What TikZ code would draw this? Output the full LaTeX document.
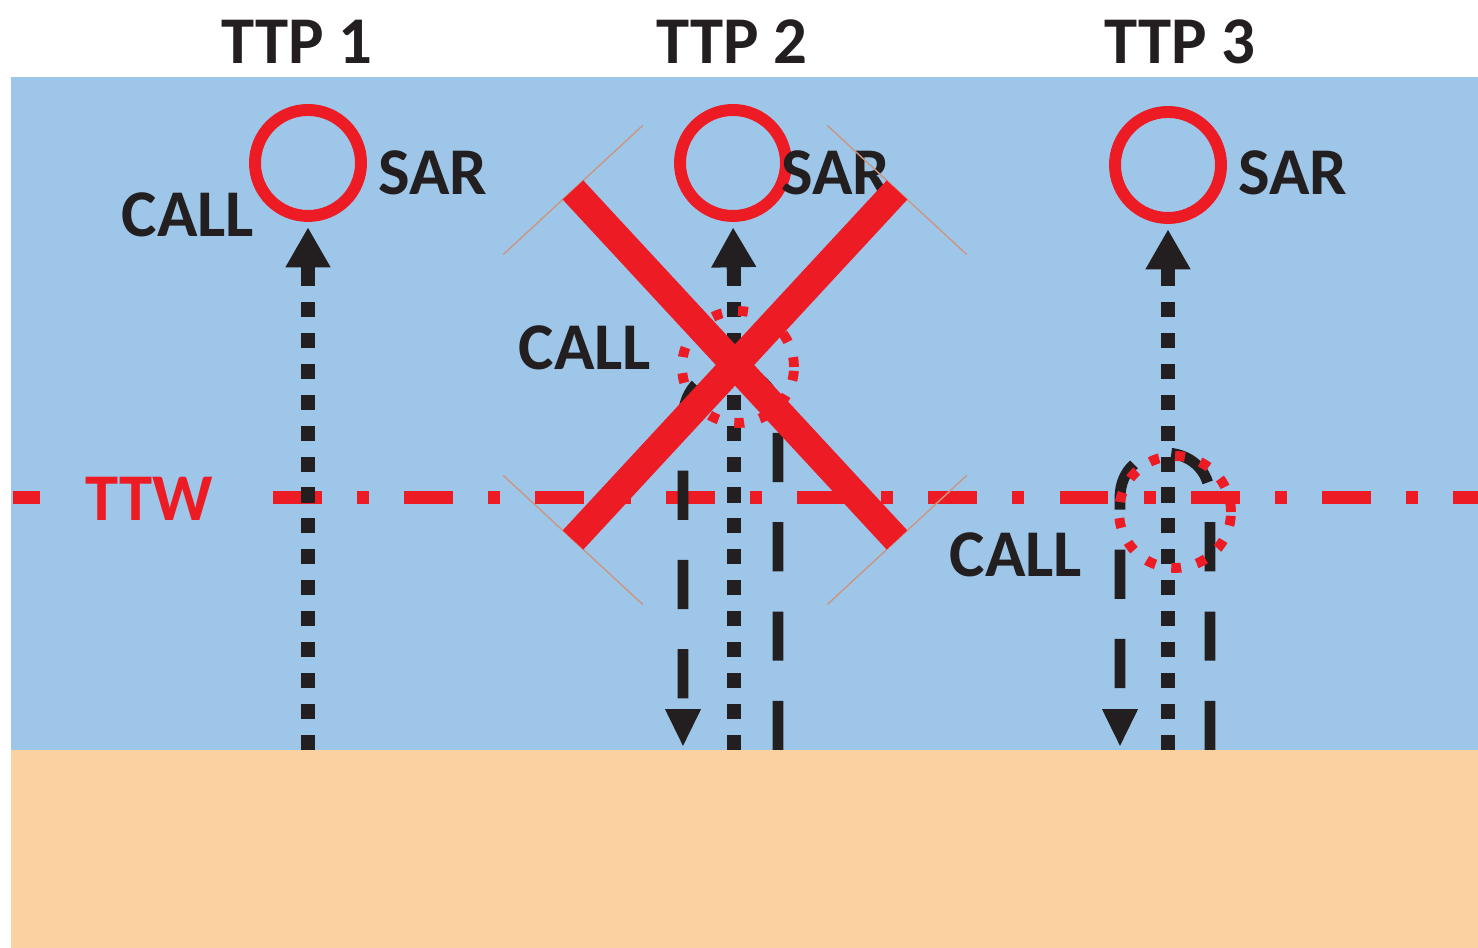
\documentclass[tikz,border=0pt]{standalone}
\usepackage{fontspec}
\setmainfont{Carlito}
\usetikzlibrary{arrows.meta,calc}

\definecolor{seablue}{RGB}{157,198,232}
\definecolor{sand}{RGB}{251,209,162}
\definecolor{alarmred}{RGB}{237,28,36}
\definecolor{ink}{RGB}{35,31,32}
\definecolor{capline}{RGB}{205,150,130}

\begin{document}
\begin{tikzpicture}[
    lbl/.style={font=\fontsize{19}{22}\selectfont\bfseries, text=ink, inner sep=0pt},
    sar/.style={circle, draw=alarmred, line width=3.4pt, minimum size=1.06cm, inner sep=0pt},
    uptrack/.style={ink, line width=4pt, dash pattern=on 4.3pt off 4.5pt},
    uptip/.style={ink, line width=4pt, shorten >=1.5pt, -{Triangle[length=11.4pt,width=12pt]}},
    hairpin/.style={ink, line width=3.1pt, dash pattern=on 14pt off 11.4pt, -{Triangle[length=10.8pt,width=9.4pt]}},
    callring/.style={circle, draw=alarmred, line width=2.8pt, dash pattern=on 2.8pt off 4.6pt, minimum size=1.12cm, inner sep=0pt},
    ttwline/.style={alarmred, line width=3.7pt, dash pattern=on 13.9pt off 10pt on 3.4pt off 10pt},
    cross/.style={alarmred, line width=8pt},
    crosscap/.style={capline, line width=0.4pt}
]

    % Page, sea and seabed
    \useasboundingbox (0,0) rectangle (14.78,9.48);
    \fill[white] (0,0) rectangle (14.78,9.48);
    \fill[seablue] (0.11,1.98) rectangle (14.78,8.71);
    \fill[sand] (0.11,0) rectangle (14.78,1.98);

    % Headings
    \node[lbl] (ttp1) at (2.97,9.06) {TTP 1};
    \node[lbl] (ttp2) at (7.32,9.06) {TTP 2};
    \node[lbl] (ttp3) at (11.80,9.06) {TTP 3};

    % TTW line
    \node[lbl, text=alarmred] (ttw) at (1.49,4.49) {TTW};
    \draw[ttwline] (0.13,4.50) -- (0.40,4.50);
    \draw[ttwline] (2.73,4.50) -- (14.78,4.50);

    % Track ends on the seabed
    \coordinate (b1) at (3.08,1.98);
    \coordinate (b2) at (7.34,1.98);
    \coordinate (b3) at (11.68,1.98);

    % Hairpin tracks (TTP 2 and TTP 3)
    \coordinate (h2r) at (7.78,1.98);
    \coordinate (h2l) at (6.83,2.01);
    \coordinate (h3r) at (12.10,1.98);
    \coordinate (h3l) at (11.20,2.01);
    \draw[hairpin] (h2r) -- (7.78,5.28) .. controls (7.78,5.95) and (6.83,5.95) .. (6.83,5.28) -- (h2l);
    \draw[hairpin] (h3r) -- (12.10,4.50) .. controls (12.10,5.10) and (11.20,5.10) .. (11.20,4.50) -- (h3l);

    % SAR circles
    \node[sar] (c1) at (3.08,7.85) {};
    \node[sar] (c2) at (7.33,7.85) {};
    \node[sar] (c3) at (11.68,7.83) {};

    % Dotted tracks up to SAR
    \foreach \i/\x in {1/3.08, 2/7.34, 3/11.68} {
        \coordinate (s\i) at (\x,6.65);
        \draw[uptrack] (b\i) -- (s\i);
        \draw[uptip] (s\i) -- (c\i.south);
    }

    % CALL rings
    \node[callring] (ring2) at (7.38,5.81) {};
    \node[callring] (ring3) at (11.75,4.36) {};

    % Labels
    \node[lbl] (sar1) at (4.33,7.75) {SAR};
    \node[lbl] (call1) at (1.88,7.33) {CALL};
    \node[lbl] (sar2) at (8.36,7.75) {SAR};
    \node[lbl] (call2) at (5.85,6.00) {CALL};
    \node[lbl] (sar3) at (12.93,7.75) {SAR};
    \node[lbl] (call3) at (10.16,3.93) {CALL};

    % Red cross over TTP 2
    \coordinate (xa) at (5.73,7.58);
    \coordinate (xb) at (8.97,4.08);
    \coordinate (xc) at (8.97,7.58);
    \coordinate (xd) at (5.73,4.08);
    \foreach \p/\q in {xa/xb, xb/xa, xc/xd, xd/xc}
        \draw[crosscap] ($(\p)!0.95cm!90:(\q)$) -- ($(\p)!0.95cm!-90:(\q)$);
    \draw[cross] (xa) -- (xb);
    \draw[cross] (xc) -- (xd);

\end{tikzpicture}
\end{document}
